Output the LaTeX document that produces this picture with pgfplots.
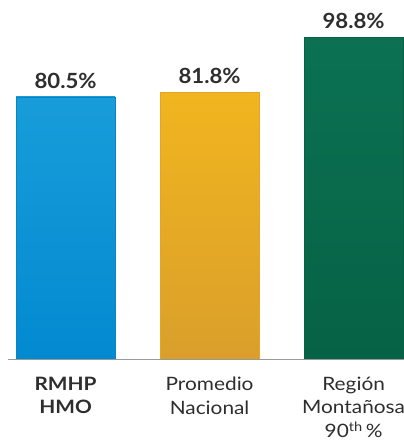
\documentclass[border=0pt]{standalone}
\usepackage{pgfplots}
\pgfplotsset{compat=1.18}
\usepackage{fontspec}
\setmainfont{Lato}
\newfontfamily\catfont[FakeStretch=1.13]{Lato}
\newfontfamily\valfont[FakeStretch=1.06]{Lato}
\definecolor{txt}{HTML}{2E2E2E}
\definecolor{bluetop}{HTML}{189DDA}
\definecolor{bluebot}{HTML}{0389D0}
\definecolor{blueedge}{HTML}{0A84C8}
\definecolor{goldtop}{HTML}{F1B51F}
\definecolor{goldbot}{HTML}{DA9F2B}
\definecolor{goldedge}{HTML}{E2A524}
\definecolor{greentop}{HTML}{0B7152}
\definecolor{greenbot}{HTML}{066245}
\begin{document}
\begin{tikzpicture}
\path[use as bounding box] (0,0) rectangle (404bp,442bp);
\begin{axis}[
  at={(8bp,83bp)}, anchor=south west,
  scale only axis,
  width=396bp, height=359bp,
  xmin=-0.4, xmax=2.35,
  ymin=0, ymax=110.3,
  axis x line*=bottom,
  hide y axis,
  axis line style={draw=black!40, line width=0.9bp},
  xtick={0,1,2},
  major tick length=0pt,
  xticklabels={{\bfseries RMHP\\\bfseries HMO},{Promedio\\Nacional},{Región\\Montañosa\\90\textsuperscript{th}\,\%}},
  xticklabel style={align=center, text=txt, font=\catfont\fontsize{18.5}{23.5}\selectfont, yshift=-14.5bp},
  ybar, bar width=99bp,
  point meta=explicit symbolic,
  nodes near coords,
  every node near coord/.append style={text=txt, font=\valfont\fontsize{21}{24}\selectfont\bfseries, yshift=5bp},
]
\addplot[bar shift=0pt, draw=blueedge, line width=0.6bp, top color=bluetop, bottom color=bluebot]
  coordinates {(0,80.5) [80.5\%]};
\addplot[bar shift=0pt, draw=goldedge, line width=0.6bp, top color=goldtop, bottom color=goldbot]
  coordinates {(1,81.8) [81.8\%]};
\addplot[bar shift=0pt, draw=greenbot, line width=0.6bp, top color=greentop, bottom color=greenbot]
  coordinates {(2,98.8) [98.8\%]};
\end{axis}
\end{tikzpicture}
\end{document}
